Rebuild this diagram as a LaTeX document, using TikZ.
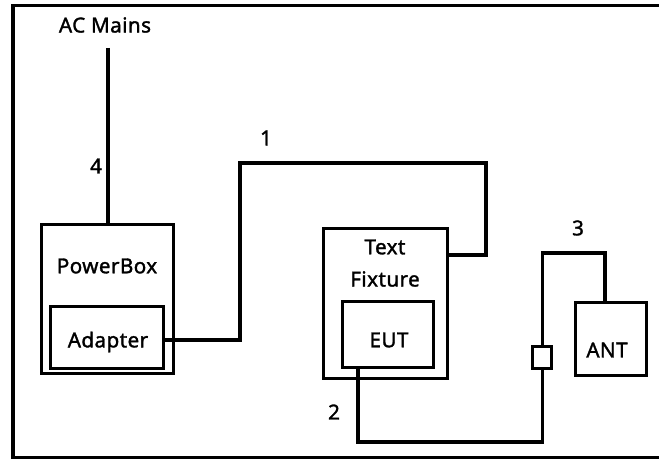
\documentclass[tikz,border=0pt]{standalone}
\usepackage{fontspec}
\setmainfont{Noto Sans}[LetterSpace=2,FakeBold=1.5]
\begin{document}
\begin{tikzpicture}[x=0.75pt,y=-0.75pt,
  wire/.style={line width=2.3pt,line join=miter},
  boxed/.style={draw,line width=2.3pt,inner sep=0pt,anchor=north west},
  lbl/.style={font=\fontsize{15.5}{18}\selectfont\bfseries,inner sep=0pt},
  num/.style={font=\fontsize{15.5}{18}\selectfont\bfseries,inner sep=0pt}]
\useasboundingbox (0,0) rectangle (659,459);
\clip (0,0) rectangle (659,459);
\fill[white] (0,0) rectangle (659,459);
% frame
\draw[line width=2.3pt] (680,5.5) -- (13,5.5) -- (13,457.5) -- (680,457.5);
% boxes
\node[boxed,minimum width=132*0.75pt,minimum height=149*0.75pt] (pb) at (40,223) {};
\node[boxed,minimum width=113*0.75pt,minimum height=62*0.75pt] (ad) at (49,305) {};
\node[boxed,minimum width=124*0.75pt,minimum height=150*0.75pt] (tf) at (322,227) {};
\node[boxed,minimum width=91*0.75pt,minimum height=66*0.75pt] (eut) at (341,300) {};
\node[boxed,minimum width=71*0.75pt,minimum height=73*0.75pt] (ant) at (574,301) {};
\node[boxed,minimum width=19*0.75pt,minimum height=22*0.75pt] (con) at (531,345) {};
% texts
\node[lbl] (acm) at (105,25) {AC Mains};
\node[lbl] (pbt) at (107,266) {PowerBox};
\node[lbl] (adt) at (108,342) {Adapter};
\node[lbl] (tft1) at (385,247) {Text};
\node[lbl] (tft2) at (385,279) {Fixture};
\node[lbl] (eutt) at (389,340) {EUT};
\node[lbl] (antt) at (607,350) {ANT};
\node[num] (n1) at (266,138) {1};
\node[num] (n2) at (334,412) {2};
\node[num] (n3) at (578,228) {3};
\node[num] (n4) at (96,166) {4};
% wires
\coordinate (acend) at (108,48);
\draw[wire] (acend) -- (acend |- pb.north);
\draw[wire] (ad.east |- 0,340) -- (240,340) -- (240,163) -- (486,163) -- (486,255) -- (tf.east |- 0,255);
\draw[wire] (358,0 |- eut.south) -- (358,442) -- (con.south |- 0,442) -- (con.south);
\draw[wire] (con.north) -- (con.north |- 0,253) -- (605,253) -- (605,0 |- ant.north);
\end{tikzpicture}
\end{document}
